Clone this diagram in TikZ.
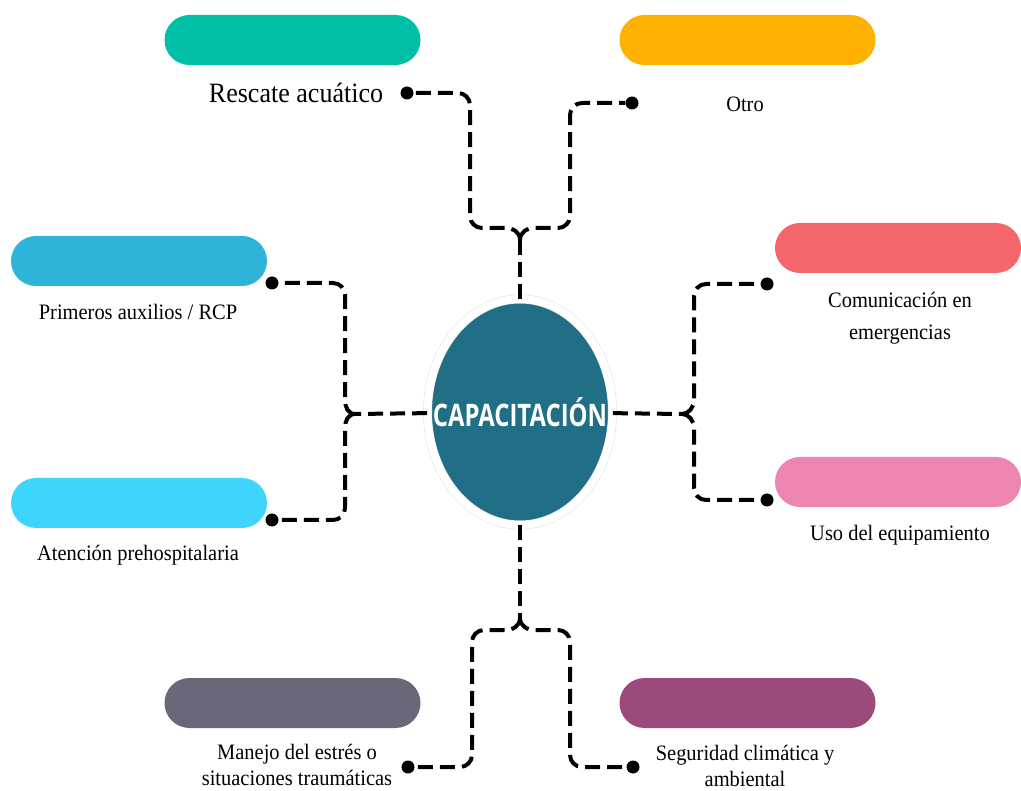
\documentclass[tikz,border=0pt]{standalone}
\usepackage{fontspec}
\usetikzlibrary{shapes.geometric}
\newfontfamily\labelfont[FakeStretch=0.93]{Liberation Serif}
\newfontfamily\hubfont[FakeStretch=0.77]{Open Sans}
\definecolor{hubteal}{HTML}{216F86}
\definecolor{rescuecol}{HTML}{00BFA7}
\definecolor{othercol}{HTML}{FFB100}
\definecolor{firstaidcol}{HTML}{2DB4D8}
\definecolor{prehospcol}{HTML}{3DD5FB}
\definecolor{commscol}{HTML}{F4666B}
\definecolor{equipcol}{HTML}{EC86B0}
\definecolor{stresscol}{HTML}{6A6778}
\definecolor{climatecol}{HTML}{9B4A7B}
\tikzset{
  pill/.style={rectangle, rounded corners=25pt, minimum width=256pt, minimum height=50pt, inner sep=0pt},
  lbl/.style={font=\labelfont\fontsize{22}{26}\selectfont, align=center, inner sep=0pt, anchor=base},
  link/.style={line width=4pt, dash pattern=on 15pt off 7pt},
  dot/.style={circle, fill=black, inner sep=0pt, minimum size=13pt},
  hub/.style={ellipse, minimum width=185pt, minimum height=226pt, inner sep=0pt,
    fill=hubteal, draw=black!10, line width=0.6pt, double=white, double distance=7.8pt},
  hubtext/.style={text=white, inner sep=0pt, font=\hubfont\bfseries\fontsize{31}{32}\selectfont}
}
\begin{document}
\begin{tikzpicture}[x=1pt, y=-1pt]
        \useasboundingbox (0,0) rectangle (1021,791);

        \node[pill, fill=rescuecol] (rescue) at (292.5,40) {};
        \node[pill, fill=othercol] (other) at (747.5,40) {};
        \node[pill, fill=firstaidcol] (firstaid) at (139,261) {};
        \node[pill, fill=prehospcol] (prehosp) at (139,503) {};
        \node[pill, fill=commscol, minimum width=246pt] (comms) at (898,248) {};
        \node[pill, fill=equipcol, minimum width=246pt] (equip) at (898,482) {};
        \node[pill, fill=stresscol] (stress) at (292.5,703) {};
        \node[pill, fill=climatecol] (climate) at (747.5,703) {};

        \node[lbl, font=\labelfont\fontsize{28}{30}\selectfont] (rescuetext) at (296,103) {Rescate acuático};
        \node[lbl] (othertext) at (745,112) {Otro};
        \node[lbl] (firstaidtext) at (138,320) {Primeros auxilios / RCP};
        \node[lbl] (prehosptext) at (138,561) {Atención prehospitalaria};
        \node[lbl] (commstext) at (900,340) {Comunicación en\\[6pt]emergencias};
        \node[lbl] (equiptext) at (900,540) {Uso del equipamiento};
        \node[lbl] (stresstext) at (297,785) {Manejo del estrés o\\situaciones traumáticas};
        \node[lbl] (climatetext) at (745,786) {Seguridad climática y\\ambiental};

        \node[dot] (rescuedot) at (407,93) {};
        \node[dot] (otherdot) at (632,103) {};
        \node[dot] (firstaiddot) at (272,283) {};
        \node[dot] (prehospdot) at (272,520) {};
        \node[dot] (commsdot) at (767,284) {};
        \node[dot] (equipdot) at (767,500) {};
        \node[dot] (stressdot) at (408,767) {};
        \node[dot] (climatedot) at (633,767) {};

        \coordinate (toptip) at (520,240);
        \coordinate (lefttip) at (355,414);
        \coordinate (righttip) at (682,414);
        \coordinate (bottomtip) at (520,618);

        \node[hub, label={[hubtext]center:CAPACITACIÓN}] (hub) at (520,412) {};

        \draw[link] (hub) -- (toptip);
        \draw[link] (toptip) .. controls +(0,-8) and +(8,0) .. ++(-15,-12) [rounded corners=12pt] -- ++(-35,0) |- (rescuedot);
        \draw[link] (toptip) .. controls +(0,-8) and +(-8,0) .. ++(15,-12) [rounded corners=12pt] -- ++(35,0) |- (otherdot);

        \draw[link] (hub) -- (lefttip);
        \draw[link] (lefttip) .. controls +(-7,0) and +(0,7) .. ++(-10,-14) [rounded corners=12pt] |- (firstaiddot);
        \draw[link] (lefttip) .. controls +(-7,0) and +(0,-7) .. ++(-10,14) [rounded corners=12pt] |- (prehospdot);

        \draw[link] (hub) -- (righttip);
        \draw[link] (righttip) .. controls +(7,0) and +(0,7) .. ++(12,-14) [rounded corners=12pt] |- (commsdot);
        \draw[link] (righttip) .. controls +(7,0) and +(0,-7) .. ++(12,14) [rounded corners=12pt] |- (equipdot);

        \draw[link] (hub) -- (bottomtip);
        \draw[link] (bottomtip) .. controls +(0,8) and +(8,0) .. ++(-15,12) [rounded corners=12pt] -- ++(-33,0) |- (stressdot);
        \draw[link] (bottomtip) .. controls +(0,8) and +(-8,0) .. ++(15,12) [rounded corners=12pt] -- ++(35,0) |- (climatedot);
    \end{tikzpicture}
\end{document}
